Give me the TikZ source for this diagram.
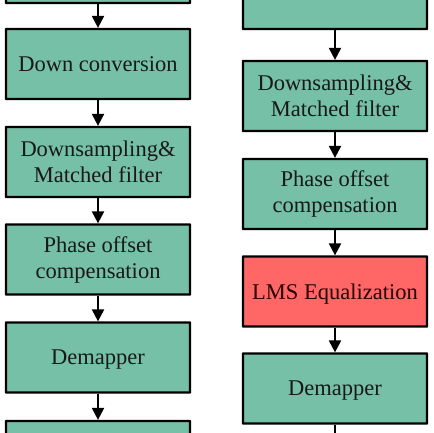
\documentclass[tikz,border=0pt]{standalone}
\usepackage{fontspec}
\setmainfont{Liberation Serif}
\usetikzlibrary{arrows.meta}
\definecolor{boxgreen}{RGB}{118,192,168}
\definecolor{boxred}{RGB}{255,102,102}
\definecolor{txt}{RGB}{25,25,25}
\tikzset{
  blk/.style={draw=black, line width=2.2pt, fill=boxgreen, rounded corners=0.2pt,
    minimum width=184pt, minimum height=70pt,
    inner sep=0pt, align=center, text=txt, font=\fontsize{22.5}{26}\selectfont},
  redblk/.style={blk, fill=boxred, text=black!85!red},
  oneline/.style={text depth=0pt},
  arr/.style={line width=2pt, -{Triangle[width=12pt,length=12pt]}}
}
\begin{document}
\begin{tikzpicture}[x=1pt,y=1pt]
\fill[white] (0,0) -- (433,0) -- (433,433) -- (0,433) -- cycle;
\useasboundingbox (0,0) rectangle (433,433);
% left column
\node[blk] (l0) at (98,465) {};
\node[blk] (l1) at (98,369) {Down conversion};
\node[blk] (l2) at (98,271) {Downsampling\&\\Matched filter};
\node[blk] (l3) at (98,173.5) {Phase offset\\compensation};
\node[blk, oneline] (l4) at (98,75.5) {Demapper};
\node[blk] (l5) at (98,-23) {};
\draw[arr] (l0) -- (l1);
\draw[arr] (l1) -- (l2);
\draw[arr] (l2) -- (l3);
\draw[arr] (l3) -- (l4);
\draw[arr] (l4) -- (l5);
% right column
\node[blk] (r0) at (335,439) {};
\node[blk] (r1) at (335,337) {Downsampling\&\\Matched filter};
\node[blk] (r2) at (335,239) {Phase offset\\compensation};
\node[redblk, oneline] (r3) at (335,141.5) {LMS Equalization};
\node[blk, oneline] (r4) at (335,44.5) {Demapper};
\coordinate (rend) at (335,-17);
\draw[arr] (r0) -- (r1);
\draw[arr] (r1) -- (r2);
\draw[arr] (r2) -- (r3);
\draw[arr] (r3) -- (r4);
\draw[line width=2pt] (r4) -- (rend);
\end{tikzpicture}
\end{document}
